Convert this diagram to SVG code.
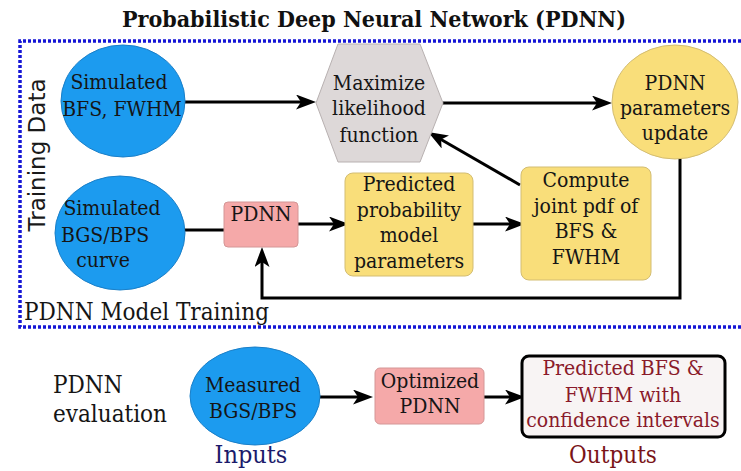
<svg xmlns="http://www.w3.org/2000/svg" width="741" height="471" viewBox="0 0 741 471">
  <defs>
    <style>
      .t { font-family: "DejaVu Serif Condensed", "DejaVu Serif", serif; font-stretch: condensed; font-size: 21px; fill: #151515; text-anchor: middle; }
      .title { font-family: "DejaVu Serif Condensed", "DejaVu Serif", serif; font-stretch: condensed; font-size: 23px; font-weight: bold; fill: #111; text-anchor: middle; }
      .side { font-family: "DejaVu Sans", sans-serif; font-size: 23px; fill: #1a1a1a; text-anchor: middle; }
      .big { font-size: 24px; }
      .blue { fill: #1c9bef; stroke: #1a7fc8; stroke-width: 1; }
      .yellow { fill: #f9de7a; stroke: #d3bd72; stroke-width: 1; }
      .pink { fill: #f5a9a9; stroke: #d49696; stroke-width: 1; }
      .hex { fill: #ddd8d8; stroke: #b8b1b1; stroke-width: 1; }
      .wire { fill: none; stroke: #000; stroke-width: 3; }
      .frame { fill: none; stroke: #1515d6; stroke-width: 3.5; stroke-dasharray: 3 2; }
    </style>
    <marker id="arrow" markerUnits="userSpaceOnUse" markerWidth="20" markerHeight="15" refX="12" refY="7.5" orient="auto">
      <path d="M0,0 L20,7.5 L0,15 L5,7.5 Z" fill="#000"/>
    </marker>
  </defs>

  <rect width="741" height="471" fill="#fff"/>

  <text class="title" x="374" y="27">Probabilistic Deep Neural Network (PDNN)</text>

  <!-- dotted training frame (open on the right) -->
  <path class="frame" d="M741,41 L20,41 L20,327 L741,327"/>
  <text class="side" transform="translate(45,155) rotate(-90)">Training Data</text>
  <text class="t big" x="24" y="320" style="text-anchor:start">PDNN Model Training</text>

  <!-- connectors -->
  <g id="connectors">
    <line class="wire" x1="185" y1="102" x2="308" y2="102" marker-end="url(#arrow)"/>
    <line class="wire" x1="443" y1="103" x2="604" y2="103" marker-end="url(#arrow)"/>
    <line class="wire" x1="520" y1="185" x2="435" y2="136" marker-end="url(#arrow)"/>
    <line class="wire" x1="185" y1="230" x2="224" y2="230"/>
    <line class="wire" x1="298" y1="224" x2="341" y2="224" marker-end="url(#arrow)"/>
    <line class="wire" x1="473" y1="224" x2="517" y2="224" marker-end="url(#arrow)"/>
    <polyline class="wire" points="680,158 680,298 262,298 262,255" marker-end="url(#arrow)"/>
    <line class="wire" x1="320" y1="397" x2="365" y2="397" marker-end="url(#arrow)"/>
    <line class="wire" x1="484" y1="397" x2="517" y2="397" marker-end="url(#arrow)"/>
  </g>

  <g id="sim-bfs-fwhm">
    <ellipse class="blue" cx="123" cy="101" rx="62" ry="56"/>
    <text class="t" x="119" y="89">Simulated</text>
    <text class="t" x="122" y="116">BFS, FWHM</text>
  </g>

  <g id="max-likelihood">
    <polygon class="hex" points="316,103 338,44 420,44 443,103 420,162 338,162"/>
    <text class="t" x="379" y="90">Maximize</text>
    <text class="t" x="379" y="115">likelihood</text>
    <text class="t" x="379" y="142">function</text>
  </g>

  <g id="param-update">
    <ellipse class="yellow" cx="675" cy="102" rx="63" ry="57"/>
    <text class="t" x="675" y="90">PDNN</text>
    <text class="t" x="675" y="115">parameters</text>
    <text class="t" x="675" y="140">update</text>
  </g>

  <g id="sim-bgs-bps">
    <ellipse class="blue" cx="120" cy="233" rx="65" ry="57"/>
    <text class="t" x="112" y="215">Simulated</text>
    <text class="t" x="105" y="242">BGS/BPS</text>
    <text class="t" x="103" y="267">curve</text>
  </g>

  <g id="pdnn">
    <rect class="pink" x="224" y="202" width="74" height="45" rx="4"/>
    <text class="t" x="261" y="221">PDNN</text>
  </g>

  <g id="predicted-params">
    <rect class="yellow" x="345" y="173" width="128" height="103" rx="8"/>
    <text class="t" x="409" y="191">Predicted</text>
    <text class="t" x="409" y="217">probability</text>
    <text class="t" x="409" y="242">model</text>
    <text class="t" x="409" y="268">parameters</text>
  </g>

  <g id="joint-pdf">
    <rect class="yellow" x="521" y="167" width="130" height="113" rx="8"/>
    <text class="t" x="586" y="187">Compute</text>
    <text class="t" x="586" y="213">joint pdf of</text>
    <text class="t" x="586" y="238">BFS &amp;</text>
    <text class="t" x="586" y="264">FWHM</text>
  </g>

  <!-- evaluation stage -->
  <g id="eval-label">
    <text class="t big" x="53" y="393" style="text-anchor:start">PDNN</text>
    <text class="t big" x="53" y="422" style="text-anchor:start">evaluation</text>
  </g>

  <g id="measured">
    <ellipse class="blue" cx="255" cy="396" rx="65" ry="49"/>
    <text class="t" x="253" y="392">Measured</text>
    <text class="t" x="253" y="418">BGS/BPS</text>
    <text class="t" x="251" y="463" style="fill:#1b1b6b;font-size:25px">Inputs</text>
  </g>

  <g id="optimized">
    <rect class="pink" x="375" y="368" width="109" height="56" rx="5"/>
    <text class="t" x="430" y="388">Optimized</text>
    <text class="t" x="430" y="413">PDNN</text>
  </g>

  <g id="outputs">
    <rect x="522" y="356" width="203" height="81" rx="7" fill="#f8f4f4" stroke="#000" stroke-width="3"/>
    <text class="t" x="623" y="375" style="fill:#8a1a2a">Predicted BFS &amp;</text>
    <text class="t" x="623" y="402" style="fill:#8a1a2a">FWHM with</text>
    <text class="t" x="623" y="427" style="fill:#8a1a2a">confidence intervals</text>
    <text class="t big" x="613" y="463" style="fill:#7a1418">Outputs</text>
  </g>
</svg>
